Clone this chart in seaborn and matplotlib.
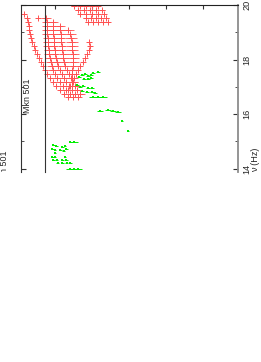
import numpy as np
import pandas as pd
import seaborn as sns
import matplotlib.pyplot as plt

# log frequency rows shared by the red spectra (Hz, log10)
NU_RED = [20.11, 19.96, 19.82, 19.67, 19.52, 19.38, 19.23, 19.08, 18.94, 18.79,
          18.64, 18.50, 18.35, 18.21, 18.06, 17.91, 17.77, 17.62, 17.47, 17.33,
          17.18, 17.03, 16.89, 16.74, 16.63]

# log nuFnu of each red spectrum on those rows (None = no point)
R0 = [None] * 4 + [-8.54] + [None] * 20
R1 = [None] * 3 + [-8.16, -8.24, -8.27, -8.30, -8.30, -8.32, -8.35, -8.38, -8.43,
                   -8.46, -8.51, -8.57, -8.62, -8.68, -8.73, -8.78, -8.86, -8.95,
                   -9.03, -9.14, -9.24, -9.35]
R2 = [None] * 4 + [-8.76, -8.78, -8.78, -8.78, -8.78, -8.81, -8.81, -8.81, -8.84,
                   -8.84, -8.86, -8.89, -8.92, -8.95, -9.00, -9.05, -9.14, -9.22,
                   -9.30, -9.41, -9.49]
R3 = [None] * 5 + [-8.95, -8.95, -8.95, -8.95, -8.97, -8.97, -8.97, -9.00, -9.00,
                   -9.03, -9.05, -9.08, -9.14, -9.19, -9.24, -9.30, -9.38, -9.46,
                   -9.54, -9.62]
R4 = [None] * 6 + [-9.14, -9.14, -9.16, -9.16, -9.16, -9.19, -9.19, -9.22, -9.22,
                   -9.24, -9.27, -9.32, -9.38, -9.43, -9.49, -9.54, -9.59,
                   -9.68] + [None]
R5 = [None] * 7 + [-9.35, -9.41, -9.43, -9.46, -9.46, -9.46, -9.49, -9.49, -9.49,
                   -9.49, -9.46, -9.46, -9.46, -9.46, -9.46] + [None] * 3
R6 = [None] * 10 + [-9.92, -9.95, -9.92, -9.86, -9.81, -9.76, -9.68, -9.62, -9.57,
                    -9.51, -9.46, -9.41, -9.35] + [None] * 2
T1 = [-9.41, -9.51, -9.62, -9.68, -9.84, -9.89] + [None] * 19
T2 = [-9.57, -9.68, -9.78, -9.84, -9.97, -10.03] + [None] * 19
T3 = [-9.73, -9.84, -9.95, -10.00, -10.11, -10.16] + [None] * 19
T4 = [-9.89, -10.00, -10.11, -10.16, -10.24, -10.30] + [None] * 19
T5 = [-10.05, -10.16, -10.27, -10.32, -10.38, -10.43] + [None] * 19

RED_CURVES = {'R0': R0, 'R1': R1, 'R2': R2, 'R3': R3, 'R4': R4, 'R5': R5,
              'R6': R6, 'T1': T1, 'T2': T2, 'T3': T3, 'T4': T4, 'T5': T5}
RED_ERR = {'R0': 0.03, 'R1': 0.03, 'R2': 0.13, 'R3': 0.12, 'R4': 0.12,
           'R5': 0.17, 'R6': 0.06, 'T1': 0.07, 'T2': 0.07, 'T3': 0.07,
           'T4': 0.07, 'T5': 0.07}

# green points
NU_GREEN = [19.99,
            17.36, 17.44, 17.47, 17.40, 17.44, 17.51, 17.55, 17.29, 17.29, 17.33,
            17.07, 17.00, 17.03, 16.96, 16.96, 16.85, 16.81, 16.81, 16.78,
            16.63, 16.63, 16.63,
            16.12, 16.15, 16.12, 16.08,
            15.75, 15.38,
            14.98, 14.98,
            14.87, 14.84, 14.80, 14.84,
            14.73, 14.69, 14.69, 14.65, 14.73,
            14.58,
            14.43, 14.43, 14.43,
            14.32, 14.32, 14.32, 14.32,
            14.21, 14.21, 14.21, 14.21,
            13.99, 13.99, 13.99]
F_GREEN = [-10.30,
           -9.65, -9.73, -9.81, -9.89, -9.97, -10.03, -10.16, -9.78, -9.89, -9.97,
           -9.59, -9.68, -9.76, -9.89, -10.00, -9.73, -9.86, -10.00, -10.08,
           -10.03, -10.16, -10.30,
           -10.22, -10.43, -10.57, -10.70,
           -10.81, -10.97,
           -9.41, -9.51,
           -8.95, -9.03, -9.19, -9.27,
           -8.92, -9.00, -9.14, -9.24, -9.30,
           -9.00,
           -8.92, -9.00, -9.27,
           -8.95, -9.05, -9.19, -9.30,
           -9.08, -9.19, -9.32, -9.41,
           -9.41, -9.51, -9.62]
ERR_GREEN = [0.03,
             0.05, 0.05, 0.05, 0.05, 0.05, 0.05, 0.05, 0.05, 0.05, 0.05,
             0.05, 0.05, 0.05, 0.05, 0.05, 0.05, 0.05, 0.05, 0.05,
             0.10, 0.10, 0.10,
             0.08, 0.08, 0.08, 0.08,
             0.03, 0.03,
             0.04, 0.10,
             0.04, 0.04, 0.04, 0.04,
             0.04, 0.04, 0.04, 0.04, 0.04,
             0.04,
             0.04, 0.04, 0.04,
             0.04, 0.04, 0.04, 0.04,
             0.04, 0.04, 0.04, 0.04,
             0.12, 0.12, 0.12]

RED = '#ff5252'
GREEN = '#00ee00'

rows = []
for name, flux in RED_CURVES.items():
    for nu, f in zip(NU_RED, flux):
        if f is not None:
            rows.append({'curve': name, 'nu': nu, 'flux': f, 'err': RED_ERR[name]})
red = pd.DataFrame(rows)
green = pd.DataFrame({'nu': NU_GREEN, 'flux': F_GREEN, 'err': ERR_GREEN})

sns.set_style('white')
plt.rcParams['font.family'] = ['Liberation Sans', 'DejaVu Sans']

W, H = 261, 362


def box(x0, y0, x1, y1):
    return [x0 / W, 1 - y1 / H, (x1 - x0) / W, (y1 - y0) / H]


fig = plt.figure(figsize=(W / 100, H / 100), dpi=100)
ax = fig.add_axes(box(21, 5, 238, 172))

ax.errorbar(red['flux'], red['nu'], xerr=red['err'], fmt='none',
            ecolor=RED, elinewidth=0.6)
sns.scatterplot(data=red, x='flux', y='nu', marker='+', color=RED, s=16,
                linewidth=0.7, ax=ax, legend=False)
ax.errorbar(green['flux'], green['nu'], xerr=green['err'], fmt='none',
            ecolor=GREEN, elinewidth=0.7)
sns.scatterplot(data=green, x='flux', y='nu', marker='s', color=GREEN, s=4.5,
                linewidth=0, ax=ax, legend=False)

ax.set_xlim(-8.08, -13.95)
ax.set_ylim(13.88, 20.0)
ax.set_xlabel('')
ax.set_xticks([-9, -10, -11, -12, -13])
ax.set_yticks([14, 16, 18, 20])
ax.set_yticks([15, 17, 19], minor=True)
ax.tick_params(axis='x', which='both', direction='in', length=3, top=True,
               bottom=False, labeltop=False, labelbottom=False, color='#333333')
ax.tick_params(axis='y', which='major', direction='in', length=3.5, left=True,
               right=True, labelleft=False, labelright=True, labelrotation=90,
               labelsize=6.6, pad=3, color='#333333')
ax.tick_params(axis='y', which='minor', direction='in', length=2.5, left=True,
               right=True, color='#333333')
for lab in ax.get_yticklabels():
    lab.set_va('center')
ax.spines['bottom'].set_visible(False)
ax.spines['top'].set_color('#222222')
ax.spines['left'].set_color('#333333')
ax.spines['right'].set_color('#8c8c8c')
ax.spines['right'].set_linewidth(1.3)
for s in ['top', 'left']:
    ax.spines[s].set_linewidth(0.8)

ax.set_ylabel('ν (Hz)', fontsize=6.6)
ax.yaxis.set_label_position('right')
ax.yaxis.label.set(rotation=90, rotation_mode='default', ha='center', va='center')
ax.yaxis.set_label_coords(1.081, 0.075)

# frame edge of the neighbouring panel
ax2 = fig.add_axes(box(45, 5, 238, 172))
ax2.set_facecolor('none')
ax2.set_ylim(-0.82, 5.42)
ax2.set_yticks([0, 1, 2, 3, 4])
ax2.set_xticks([])
ax2.tick_params(axis='y', direction='in', length=3, labelleft=False,
                color='#333333')
for s in ['top', 'right', 'bottom']:
    ax2.spines[s].set_visible(False)
ax2.spines['left'].set_color('#333333')
ax2.spines['left'].set_linewidth(0.8)

fig.text(27.5 / W, 1 - 96 / H, 'Mkn 501', rotation=90, ha='center',
         va='center', fontsize=6.4)

# cut-off label of the panel further left
ax3 = fig.add_axes(box(0, 5, 21, 172))
ax3.axis('off')
ax3.set_xlim(0, 1)
ax3.set_ylim(0, 1)
ax3.text(4.5 / 21, (172 - 167.5) / 167, 'Mkn 501', rotation=90, ha='center',
         va='center', fontsize=6.4, clip_on=True)

fig.savefig('out.png', dpi=100)
